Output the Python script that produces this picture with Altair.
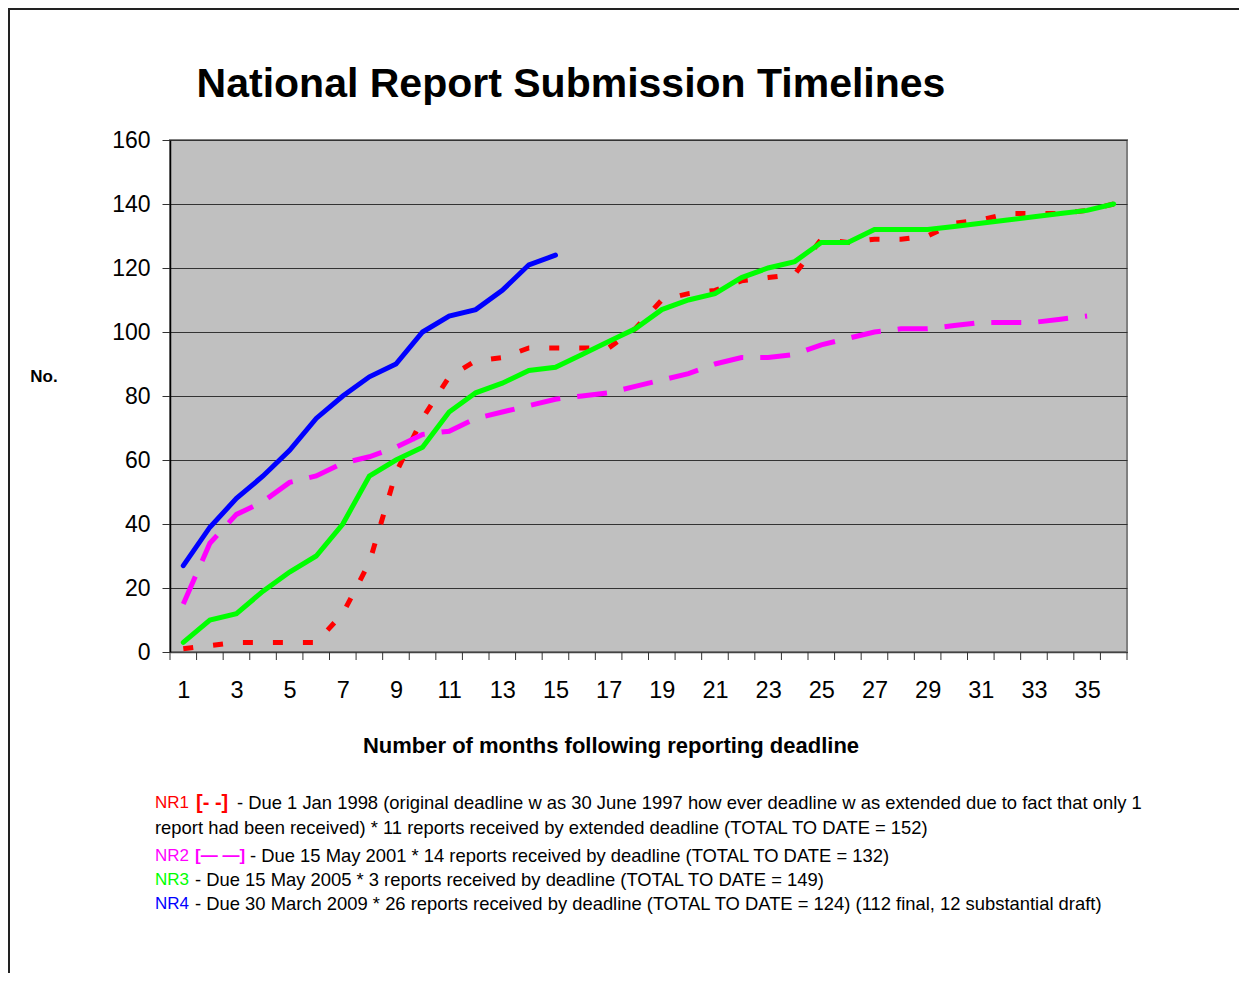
import altair as alt
import pandas as pd

# ---------------- data ----------------
months = list(range(1, 37))
nr1 = [1, 2, 3, 3, 3, 3, 12, 28, 56, 73, 86, 91, 92, 95, 95, 95, 95, 101, 110, 112,
       113, 116, 117, 118, 129, 128, 129, 129, 130, 134, 135, 137, 137, 137, 138, 140]
nr2 = [15, 34, 43, 47, 53, 55, 59, 61, 64, 68, 69, 73, 75, 77, 79, 80, 81, 83, 85, 87,
       90, 92, 92, 93, 96, 98, 100, 101, 101, 102, 103, 103, 103, 104, 105]
nr3 = [3, 10, 12, 19, 25, 30, 40, 55, 60, 64, 75, 81, 84, 88, 89, 93, 97, 101, 107, 110,
       112, 117, 120, 122, 128, 128, 132, 132, 132, 133, 134, 135, 136, 137, 138, 140]
nr4 = [27, 39, 48, 55, 63, 73, 80, 86, 90, 100, 105, 107, 113, 121, 124]

y_ticks = list(range(0, 161, 20))
x_labels = list(range(1, 36, 2))

title_text = "National Report Submission Timelines"
x_title = "Number of months following reporting deadline"
y_title = "No."

legend_names = ["NR1", "", "NR2", "NR3", "NR4"]
legend_marks = ["[- -]", "", "[\u2014 \u2014]", "", ""]
legend_key_colors = ["#FF0000", "#FF0000", "#FF00FF", "#00FF00", "#0000FF"]
legend_texts = [
    "- Due 1 Jan 1998  (original deadline w as 30 June 1997 how ever deadline w as extended due to fact that only 1",
    "report had been received)  * 11 reports received by extended deadline (TOTAL TO DATE = 152)",
    "- Due 15 May 2001 * 14 reports received by deadline (TOTAL TO DATE = 132)",
    "- Due 15 May 2005 * 3 reports received by deadline (TOTAL TO DATE = 149)",
    "- Due 30 March 2009 * 26 reports received by deadline (TOTAL TO DATE = 124) (112 final, 12 substantial draft)",
]

FONT = "Liberation Sans"
W, H = 957, 512

rows = []
for name, vals in [("NR1", nr1), ("NR2", nr2), ("NR3", nr3), ("NR4", nr4)]:
    for m, v in zip(months, vals):
        rows.append({"series": name, "month": m, "value": v})
df = pd.DataFrame(rows)

boundaries = pd.DataFrame({"b": [m - 0.5 for m in months] + [months[-1] + 0.5]})

xscale = alt.Scale(domain=[0.5, 36.5], nice=False, zero=False)
yscale = alt.Scale(domain=[0, 160], nice=False, zero=True)

x_enc = alt.X("month:Q", scale=xscale,
              axis=alt.Axis(values=x_labels, grid=False, tickSize=8, tickOpacity=0,
                            labelFontSize=23.5, labelFont=FONT, labelPadding=18,
                            labelColor="black", labelFlush=False,
                            domainColor="#444444", domainWidth=1.5, title=None))
y_enc = alt.Y("value:Q", scale=yscale,
              axis=alt.Axis(values=y_ticks, grid=True, gridColor="#333333", gridWidth=1,
                            tickSize=8, tickColor="#333333", labelFontSize=23,
                            labelFont=FONT, labelPadding=12, labelColor="black",
                            labelFlush=False, domainColor="black", domainWidth=1.5,
                            title=None))

base = alt.Chart(df)


def series_line(name, color, dash=None, cap="round"):
    kw = dict(color=color, strokeWidth=5, strokeCap=cap, clip=False)
    if dash:
        kw["strokeDash"] = dash
    return base.transform_filter(alt.datum.series == name).mark_line(**kw).encode(
        x=x_enc, y=y_enc)


l1 = series_line("NR1", "#FF0000", [10, 20], "butt")
l2 = series_line("NR2", "#FF00FF", [30, 17], "butt")
l3 = series_line("NR3", "#00FF00")
l4 = series_line("NR4", "#0000FF")

xticks = alt.Chart(boundaries).mark_rule(color="#333333", strokeWidth=1).encode(
    x=alt.X("b:Q", scale=xscale), y=alt.value(H), y2=alt.value(H + 8))

one = alt.Data(values=[{"a": 0}])


def label(text, x, y, size, color="black", bold=False, align="left"):
    return alt.Chart(one).mark_text(
        text=text, fontSize=size, font=FONT, fontWeight="bold" if bold else "normal",
        color=color, align=align, baseline="middle").encode(
        x=alt.value(x), y=alt.value(y))


texts = [
    label(title_text, 401, -55, 41, bold=True, align="center"),
    label(y_title, -126, 237, 17, bold=True, align="center"),
    label(x_title, 441, 606, 22, bold=True, align="center"),
]

legend_y = [663, 688, 716, 740, 764]
name_x = -15
mark_x = [26, 0, 25, 0, 0]
mark_size = [20, 17, 17, 17, 17]
text_x = [67, -15, 80, 25, 25]
for i in range(5):
    if legend_names[i]:
        texts.append(label(legend_names[i], name_x, legend_y[i], 17,
                           color=legend_key_colors[i]))
    if legend_marks[i]:
        texts.append(label(legend_marks[i], mark_x[i], legend_y[i], mark_size[i],
                           color=legend_key_colors[i], bold=True))
    texts.append(label(legend_texts[i], text_x[i], legend_y[i], 18.4))

frame_top = alt.Chart(one).mark_rule(color="#222222", strokeWidth=2).encode(
    x=alt.value(-162), x2=alt.value(1070), y=alt.value(-131))
frame_left = alt.Chart(one).mark_rule(color="#222222", strokeWidth=2).encode(
    x=alt.value(-161), y=alt.value(-132), y2=alt.value(835))

chart = alt.layer(l1, l2, l3, l4, xticks, frame_top, frame_left, *texts).properties(
    width=W, height=H,
    background="white",
    padding={"left": 162, "top": 132, "right": 112, "bottom": 321},
    autosize=alt.AutoSizeParams(type="none"),
).configure_view(
    fill="#C0C0C0", stroke="#808080", strokeWidth=2
)

chart.save("out.html", embed_options={"renderer": "svg", "actions": False})
